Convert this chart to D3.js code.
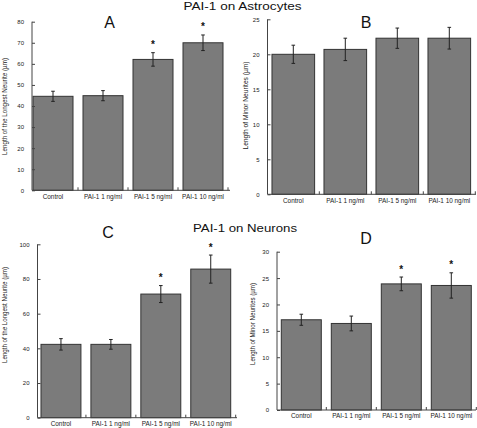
<!DOCTYPE html>
<html>
<head>
<meta charset="utf-8">
<script src="https://cdn.jsdelivr.net/npm/d3@7"></script>
<style>
  html, body { margin: 0; padding: 0; background: #fff; }
  svg { display: block; font-family: "Liberation Sans", Arial, Helvetica, sans-serif; }
</style>
</head>
<body>
<svg id="chart" width="477" height="428"></svg>
<script>
// ---------- data ----------
const categories = ["Control", "PAI-1 1 ng/ml", "PAI-1 5 ng/ml", "PAI-1 10 ng/ml"];

const astroLongestMeans = [44.6, 44.9, 62.1, 70.0];
const astroLongestErrors = [2.4, 2.4, 3.2, 3.7];
const astroLongestSig = [false, false, true, true];
const astroLongestTicks = [0, 10, 20, 30, 40, 50, 60, 70, 80];

const astroMinorMeans = [20.0, 20.7, 22.3, 22.3];
const astroMinorErrors = [1.3, 1.6, 1.45, 1.55];
const astroMinorSig = [false, false, false, false];
const astroMinorTicks = [0, 5, 10, 15, 20, 25];

const neuroLongestMeans = [42.3, 42.3, 71.3, 85.7];
const neuroLongestErrors = [3.3, 2.8, 4.9, 8.1];
const neuroLongestSig = [false, false, true, true];
const neuroLongestTicks = [0, 20, 40, 60, 80, 100];

const neuroMinorMeans = [17.1, 16.4, 23.9, 23.6];
const neuroMinorErrors = [1.05, 1.4, 1.3, 2.4];
const neuroMinorSig = [false, false, true, true];
const neuroMinorTicks = [0, 5, 10, 15, 20, 25, 30];

const titles = ["PAI-1 on Astrocytes", "PAI-1 on Neurons"];
const panelLetters = ["A", "B", "C", "D"];
const yLabels = ["Length of the Longest Neurite (µm)", "Length of Minor Neurites (µm)",
                 "Length of the Longest Neurite (µm)", "Length of Minor Neurites (µm)"];

// ---------- layout ----------
const svg = d3.select("#chart");
const FILL = "#7b7b7b", STROKE = "#333", AXIS = "#444";

const panels = [
  { means: astroLongestMeans, errs: astroLongestErrors, sig: astroLongestSig, ticks: astroLongestTicks,
    axisX: 32, yTop: 21.7, y0: 190.3, band: [28, 228], pad: 0.2, xEnd: 230,
    letter: panelLetters[0], letterX: 109.5, letterY: 28.3,
    yLabel: yLabels[0], yLabelX: 7.3, yLabelY: 106.5, yLabelLen: 97 },
  { means: astroMinorMeans, errs: astroMinorErrors, sig: astroMinorSig, ticks: astroMinorTicks,
    axisX: 267.5, yTop: 19.3, y0: 194.3, band: [267.3, 475.3], pad: 0.18, xEnd: 476,
    letter: panelLetters[1], letterX: 366, letterY: 28.3,
    yLabel: yLabels[1], yLabelX: 247.5, yLabelY: 105.5, yLabelLen: 88 },
  { means: neuroLongestMeans, errs: neuroLongestErrors, sig: neuroLongestSig, ticks: neuroLongestTicks,
    axisX: 37.5, yTop: 244.3, y0: 417.7, band: [36, 235.7], pad: 0.2, xEnd: 237,
    letter: panelLetters[2], letterX: 108, letterY: 238.3,
    yLabel: yLabels[2], yLabelX: 6.5, yLabelY: 315, yLabelLen: 96 },
  { means: neuroMinorMeans, errs: neuroMinorErrors, sig: neuroMinorSig, ticks: neuroMinorTicks,
    axisX: 277, yTop: 251.7, y0: 410, band: [276.3, 476.3], pad: 0.2, xEnd: 476,
    letter: panelLetters[3], letterX: 366, letterY: 243.5,
    yLabel: yLabels[3], yLabelX: 254.5, yLabelY: 324, yLabelLen: 82 }
];

panels.forEach(p => {
  const g = svg.append("g");
  const dMax = p.ticks[p.ticks.length - 1];
  const y = d3.scaleLinear().domain([0, dMax]).range([p.y0, p.yTop]);
  const x = d3.scaleBand().domain(categories).range(p.band)
    .paddingInner(p.pad).paddingOuter(p.pad / 2);
  const cx = c => x(c) + x.bandwidth() / 2;

  // bars
  g.selectAll("rect.bar").data(categories).join("rect")
    .attr("class", "bar")
    .attr("x", c => x(c))
    .attr("y", (c, i) => y(p.means[i]))
    .attr("width", x.bandwidth())
    .attr("height", (c, i) => p.y0 - y(p.means[i]))
    .attr("fill", FILL)
    .attr("stroke", STROKE)
    .attr("stroke-width", 1);

  // error bars
  const eb = g.selectAll("g.err").data(categories).join("g").attr("class", "err")
    .attr("stroke", "#222").attr("stroke-width", 1);
  eb.append("line")
    .attr("x1", cx).attr("x2", cx)
    .attr("y1", (c, i) => y(p.means[i] + p.errs[i])).attr("y2", (c, i) => y(p.means[i] - p.errs[i]));
  eb.append("line")
    .attr("x1", c => cx(c) - 1.8).attr("x2", c => cx(c) + 1.8)
    .attr("y1", (c, i) => y(p.means[i] + p.errs[i])).attr("y2", (c, i) => y(p.means[i] + p.errs[i]));
  eb.append("line")
    .attr("x1", c => cx(c) - 1.8).attr("x2", c => cx(c) + 1.8)
    .attr("y1", (c, i) => y(p.means[i] - p.errs[i])).attr("y2", (c, i) => y(p.means[i] - p.errs[i]));

  // significance stars
  g.selectAll("text.star").data(categories.filter((c, i) => p.sig[i])).join("text")
    .attr("class", "star")
    .attr("x", cx)
    .attr("y", c => { const i = categories.indexOf(c); return y(p.means[i] + p.errs[i]) - 1; })
    .attr("dy", "-0.35em")
    .attr("text-anchor", "middle")
    .attr("font-size", 10)
    .attr("font-weight", "bold")
    .attr("fill", "#111")
    .text("*");

  // y axis
  const yAxis = d3.axisLeft(y).tickValues(p.ticks).tickSize(-3).tickPadding(8)
    .tickFormat(d3.format("d"));
  const ya = g.append("g").attr("transform", `translate(${p.axisX},0)`).call(yAxis);
  ya.select(".domain").attr("stroke", AXIS).attr("d", `M0,${p.yTop}V${p.y0}`);
  ya.selectAll(".tick line").attr("stroke", AXIS);
  ya.selectAll(".tick text").attr("font-size", 6).attr("fill", "#222")
    .attr("font-family", "'Liberation Sans', Arial, sans-serif");

  // x axis line
  g.append("line").attr("x1", p.axisX).attr("x2", p.xEnd)
    .attr("y1", p.y0).attr("y2", p.y0).attr("stroke", AXIS).attr("stroke-width", 1);
  // band separator ticks
  const step = x.step();
  g.selectAll("line.sep").data(d3.range(1, categories.length + 1)).join("line")
    .attr("class", "sep")
    .attr("x1", k => p.band[0] + k * step)
    .attr("x2", k => p.band[0] + k * step)
    .attr("y1", p.y0).attr("y2", p.y0 - 3)
    .attr("stroke", AXIS);

  // x labels
  g.selectAll("text.xl").data(categories).join("text")
    .attr("class", "xl")
    .attr("x", cx)
    .attr("y", p.y0 + 8.3)
    .attr("text-anchor", "middle")
    .attr("font-size", 6.4)
    .attr("fill", "#222")
    .text(c => c);

  // y label
  g.append("text")
    .attr("transform", `translate(${p.yLabelX},${p.yLabelY}) rotate(-90)`)
    .attr("text-anchor", "middle")
    .attr("font-size", 6.3)
    .attr("textLength", p.yLabelLen)
    .attr("lengthAdjust", "spacingAndGlyphs")
    .attr("fill", "#222")
    .text(p.yLabel);

  // panel letter
  g.append("text")
    .attr("x", p.letterX).attr("y", p.letterY)
    .attr("text-anchor", "middle")
    .attr("font-size", 16)
    .attr("fill", "#111")
    .text(p.letter);
});

// section titles
svg.append("text").attr("x", 242.5).attr("y", 10.3).attr("text-anchor", "middle")
  .attr("font-size", 11).attr("fill", "#111")
  .attr("textLength", 118).attr("lengthAdjust", "spacingAndGlyphs")
  .text(titles[0]);
svg.append("text").attr("x", 245).attr("y", 232).attr("text-anchor", "middle")
  .attr("font-size", 11.5).attr("fill", "#111")
  .attr("textLength", 104).attr("lengthAdjust", "spacingAndGlyphs")
  .text(titles[1]);
</script>
</body>
</html>
